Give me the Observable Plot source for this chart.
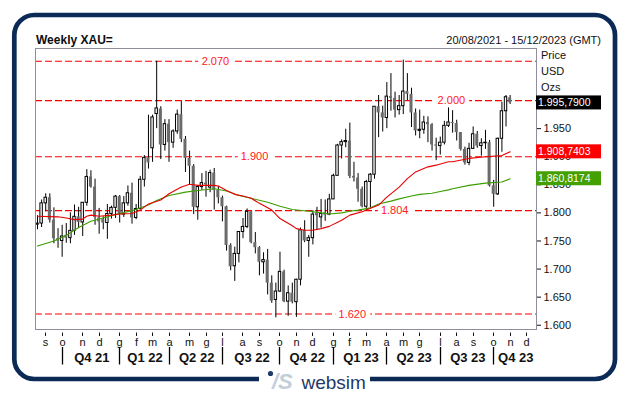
<!DOCTYPE html>
<html><head><meta charset="utf-8">
<script src="https://cdn.jsdelivr.net/npm/d3@7"></script>
<script src="https://cdn.jsdelivr.net/npm/@observablehq/plot@0.6"></script>
<style>html,body{margin:0;padding:0;background:#fff}svg{display:block}</style>
</head><body><div id="chart"></div>
<script>
const firstWeek = "2021-08-20";
const lastWeek = "2023-12-15";
const open = [1779,1781,1817,1827,1787,1754,1750,1760,1755,1768,1793,1783,1818,1864,1846,1791,1788,1782,1798,1809,
1829,1797,1817,1835,1791,1807,1859,1898,1915,1976,1985,1921,1958,1925,1945,1975,1931,1897,1883,1810,
1846,1853,1845,1871,1840,1827,1811,1742,1705,1727,1766,1775,1802,1747,1738,1712,1716,1675,1645,1660,
1695,1642,1657,1641,1681,1769,1750,1755,1799,1792,1800,1797,1824,1866,1920,1926,1928,1865,1862,1842,
1811,1855,1868,1989,1978,1969,2007,2004,1983,1990,2016,2011,1978,1946,1948,1961,1957,1921,1919,1925,
1955,1961,1959,1943,1913,1889,1914,1940,1919,1924,1925,1848,1833,1932,1981,2005];
const high = [1795,1823,1834,1834,1809,1772,1778,1781,1800,1814,1810,1818,1877,1875,1860,1808,1793,1815,1812,1831,
1831,1829,1848,1853,1815,1865,1902,1974,1974,2070,1989,1966,1966,1948,1983,1998,1936,1910,1886,1849,
1870,1874,1876,1879,1847,1830,1812,1745,1739,1767,1790,1807,1802,1765,1740,1729,1735,1688,1675,1730,
1698,1670,1675,1682,1773,1786,1760,1804,1810,1824,1823,1833,1869,1922,1930,1949,1960,1890,1870,1846,
1858,1870,1989,2009,1990,2032,2048,2015,2009,2072,2048,2022,1985,1983,1972,1971,1959,1933,1935,1963,
1987,1982,1965,1943,1917,1924,1953,1945,1932,1947,1929,1858,1933,1997,2009,2009];
const low = [1770,1774,1802,1782,1745,1737,1721,1746,1745,1760,1772,1758,1812,1844,1778,1762,1770,1753,1789,1790,
1782,1792,1812,1780,1788,1805,1846,1878,1890,1950,1895,1910,1890,1915,1940,1925,1872,1850,1797,1787,
1840,1828,1836,1805,1816,1784,1732,1697,1678,1711,1754,1772,1745,1727,1688,1691,1654,1639,1613,1658,
1640,1616,1638,1614,1670,1747,1721,1743,1769,1773,1785,1795,1824,1866,1896,1916,1861,1855,1819,1809,
1804,1809,1860,1934,1944,1950,1981,1969,1974,1975,2000,1952,1937,1932,1940,1925,1910,1893,1903,1921,
1952,1942,1928,1910,1885,1884,1913,1915,1901,1913,1846,1810,1831,1908,1953,1993];
const close = [1781,1817,1827,1787,1754,1750,1758,1755,1768,1793,1783,1818,1864,1846,1792,1784,1782,1798,1809,1829,
1797,1817,1835,1791,1807,1859,1898,1889,1970,1986,1921,1958,1925,1945,1975,1931,1897,1883,1810,1846,
1853,1850,1871,1840,1827,1811,1742,1704,1727,1766,1775,1802,1747,1738,1712,1716,1675,1643,1660,1695,
1642,1657,1641,1681,1769,1750,1755,1797,1795,1798,1796,1824,1866,1920,1926,1928,1865,1862,1842,1811,
1855,1868,1989,1978,1969,2007,2004,1983,1990,2016,2011,1978,1946,1948,1961,1957,1921,1919,1925,1955,
1961,1959,1943,1913,1889,1914,1940,1919,1924,1925,1848,1833,1932,1981,2006,1995.79];

const redMAWeek = [0,5,7,9,11,12,13,15,18,20,23,25,27,30,32,35,37,39,43,44,46,48,50,52,54,57,59,62,63,65,67,69,71,74,76,79,80,83,85,88,90,92,95,97,100,101,105,109,113,115];
const redMAValue = [1794,1793,1791,1788,1789,1794,1796,1794,1796,1798,1799,1805,1816,1823,1834,1846,1851,1849,1849,1848,1840,1833,1830,1826,1817,1805,1790,1777,1772,1769,1769,1772,1776,1787,1796,1802,1805,1814,1828,1846,1861,1873,1882,1885,1891,1891,1897,1900,1902,1908.74];
const greenMAWeek = [0,4,7,10,13,16,19,23,27,29,32,36,39,43,46,49,52,56,59,62,66,69,71,74,76,78,81,83,86,88,91,93,96,98,100,101,105,109,113,115];
const greenMAValue = [1741,1750,1760,1774,1785,1791,1797,1804,1814,1822,1831,1837,1840,1843,1839,1831,1826,1819,1812,1806,1803,1800,1798,1800,1803,1805,1809,1816,1821,1825,1830,1833,1835,1838,1841,1843,1849,1853,1855,1860.82];

const levels = [2070, 2000, 1900, 1804, 1620];
const levelLabelWeek = [43.3, 100.7, 52.8, 86.9, 76.6];
const tagValues = [1995.79, 1908.7403, 1860.8174];
const tagTexts = ["1.995,7900", "1.908,7403", "1.860,8174"];
const tagFills = ["#000000", "#ff0000", "#44a000"];
const yTicks = [1600, 1650, 1700, 1750, 1800, 1850, 1900, 1950];
const monthInitials = ["g","f","m","a","m","g","l","a","s","o","n","d"];
const quarterLabels = ["Q4 21","Q1 22","Q2 22","Q3 22","Q4 22","Q1 23","Q2 23","Q3 23","Q4 23"];
const unitLabels = ["Price", "USD", "Ozs"];

const F = "'Liberation Sans', Arial, sans-serif";
const DAY = 864e5;
const t0 = Date.parse(firstWeek);
const tEnd = Date.parse(lastWeek);
const nSlots = Math.round((tEnd - t0) / (7 * DAY)) + 1;
const weekDate = i => new Date(t0 + i * 7 * DAY);
const slots = d3.range(nSlots).map(weekDate);
const candles = open.map((o, i) => ({date: weekDate(i), open: o, high: high[i], low: low[i], close: close[i]}));
const up = candles.filter(d => d.close >= d.open);
const down = candles.filter(d => d.close < d.open);
const redMA = redMAWeek.map((w, i) => ({date: weekDate(w), v: redMAValue[i]}));
const greenMA = greenMAWeek.map((w, i) => ({date: weekDate(w), v: greenMAValue[i]}));
const fmtLevel = v => d3.format(",")(v).replace(",", ".");
const levelLabels = levels.map((v, i) => ({date: weekDate(levelLabelWeek[i]), v, t: fmtLevel(v)}));
const off = (d, k) => new Date(+d - k * DAY);

const chart = Plot.plot({
  width: 630, height: 394,
  marginLeft: 35, marginRight: 94, marginTop: 48, marginBottom: 65,
  style: {fontFamily: F, fontSize: "11px", color: "#111", background: "white", overflow: "visible"},
  x: {type: "utc", domain: [new Date(t0 - 3.4 * DAY), new Date(tEnd + 2.9 * DAY)], axis: null},
  y: {domain: [1592.4, 2092.7], axis: null},
  marks: [
    Plot.ruleY(levels, {stroke: "#ff0000", strokeWidth: 1.2, strokeDasharray: "7,3"}),
    Plot.text(levelLabels, {x: "date", y: "v", text: "t", fill: "#ff2020", stroke: "white", strokeWidth: 9, paintOrder: "stroke", fontSize: 11, fontFamily: F}),
    Plot.ruleX(candles, {x: "date", y1: "low", y2: "high", stroke: "#000", strokeWidth: 1}),
    Plot.rect(down, {x1: d => off(d.date, 2.55), x2: d => off(d.date, -2.55), y1: "open", y2: "close", fill: "#6b6b6b"}),
    Plot.rect(up, {x1: d => off(d.date, 2.05), x2: d => off(d.date, -2.05), y1: "open", y2: "close", fill: "white", stroke: "#000", strokeWidth: 1}),
    Plot.line(greenMA, {x: "date", y: "v", stroke: "#3c9e00", strokeWidth: 1.1}),
    Plot.line(redMA, {x: "date", y: "v", stroke: "#e60000", strokeWidth: 1.1}),
    Plot.frame({stroke: "#8e8e9e"}),
    Plot.axisY(yTicks, {anchor: "right", tickSize: 4, tickPadding: 3, tickFormat: fmtLevel, fontSize: 11, fontFamily: F})
  ]
});
document.getElementById("chart").appendChild(chart);

const xs = chart.scale("x"), ys = chart.scale("y");
const svg = d3.select(chart);
const g = svg.append("g").attr("font-family", F).attr("text-anchor", "start");

// outer rounded border
svg.insert("rect", ":first-child").attr("x", 14.3).attr("y", 15).attr("width", 600.7).attr("height", 364)
  .attr("rx", 20).attr("fill", "none").attr("stroke", "#0b2a55").attr("stroke-width", 4.7);

// title and dates
g.append("text").attr("x", 36).attr("y", 43.5).attr("font-size", 12).attr("font-weight", "bold").attr("fill", "#0d0d0d").text("Weekly XAU=");
g.append("text").attr("x", 601).attr("y", 43.5).attr("font-size", 11).attr("text-anchor", "end").attr("fill", "#111")
  .text(`${d3.utcFormat("%d/%m/%Y")(new Date(t0))} - ${d3.utcFormat("%d/%m/%Y")(new Date(tEnd))} (GMT)`);

// unit labels
unitLabels.forEach((t, i) => g.append("text").attr("x", 541).attr("y", 59 + 16 * i).attr("font-size", 11).attr("fill", "#111").text(t));

// price tags
tagValues.forEach((v, i) => {
  const y = ys.apply(v);
  g.append("rect").attr("x", 536).attr("y", y - 7).attr("width", 65).attr("height", 14).attr("fill", tagFills[i]);
  g.append("text").attr("x", 538).attr("y", y + 4).attr("font-size", 10.5).attr("fill", "#fff").text(tagTexts[i]);
});

// month ticks
const monthStarts = slots.filter((d, i) => i > 0 && d.getUTCMonth() !== slots[i - 1].getUTCMonth());
monthStarts.forEach(d => {
  const x = Math.round(xs.apply(d)) + 0.5;
  g.append("line").attr("x1", x).attr("x2", x).attr("y1", 332.5).attr("y2", 336).attr("stroke", "#111");
  g.append("text").attr("x", x).attr("y", 345.5).attr("font-size", 11).attr("text-anchor", "middle").attr("fill", "#111")
    .text(monthInitials[d.getUTCMonth()]);
});

// quarters
const qStarts = monthStarts.filter(d => d.getUTCMonth() % 3 === 0);
const xEnd = xs.range[1];
qStarts.forEach((d, i) => {
  const x = Math.round(xs.apply(d)) + 0.5;
  const xn = i + 1 < qStarts.length ? xs.apply(qStarts[i + 1]) : xEnd;
  g.append("line").attr("x1", x).attr("x2", x).attr("y1", 347).attr("y2", 364.5).attr("stroke", "#000").attr("stroke-width", 1.3);
  g.append("text").attr("x", (x + xn) / 2 + 1).attr("y", 362).attr("font-size", 13).attr("font-weight", "bold")
    .attr("text-anchor", "middle").attr("fill", "#111").text(quarterLabels[i]);
});

// footer logo
g.append("rect").attr("x", 259).attr("y", 371).attr("width", 111).attr("height", 16).attr("fill", "#fff");
g.append("circle").attr("cx", 270.5).attr("cy", 373.5).attr("r", 2.6).attr("fill", "#1f3a68");
g.append("text").attr("x", 272).attr("y", 389).attr("font-size", 22).attr("font-weight", "bold").attr("font-style", "italic")
  .attr("fill", "#c3cedb").text("/S");
g.append("text").attr("x", 301.5).attr("y", 388.5).attr("font-size", 19).attr("fill", "#1f3a68").text("websim");
</script>
</body></html>
